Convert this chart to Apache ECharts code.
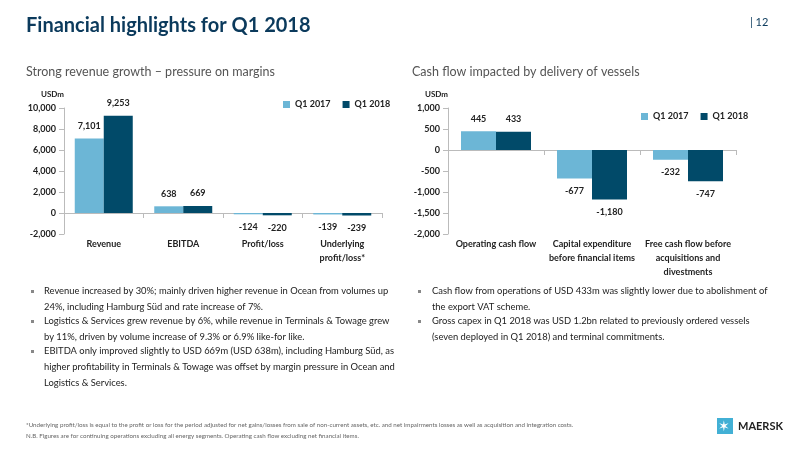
<!DOCTYPE html>
<html><head><meta charset="utf-8">
<script src="https://cdn.jsdelivr.net/npm/echarts@6/dist/echarts.min.js"></script>
<style>html,body{margin:0;padding:0;background:#fff}#c{width:800px;height:450px}</style>
</head><body><div id="c"></div>
<script>
const leftCategories = ['Revenue', 'EBITDA', 'Profit/loss', 'Underlying\nprofit/loss*'];
const leftQ12017 = [7101, 638, -124, -139];
const leftQ12018 = [9253, 669, -220, -239];
const rightCategories = ['Operating cash flow', 'Capital expenditure\nbefore financial items', 'Free cash flow before\nacquisitions and\ndivestments'];
const rightQ12017 = [445, -677, -232];
const rightQ12018 = [433, -1180, -747];
const seriesNames = ['Q1 2017', 'Q1 2018'];

const LIGHT = '#6cb6d6', DARK = '#014a69';
const F = 'Lato, "Open Sans", sans-serif';
const fmt = v => v.toLocaleString('en-US');
const items = arr => arr.map(v => ({value: v, label: {position: v < 0 ? 'bottom' : 'top'}}));
const lbl = {show: true, fontFamily: F, fontSize: 9, fontWeight: 'bold', color: '#222', distance: 8, formatter: p => fmt(p.value)};
const axisLbl = {fontFamily: F, fontSize: 9, fontWeight: 'bold', color: '#222'};

const chart = echarts.init(document.getElementById('c'));
const txt = (x, y, t, o) => ({type: 'text', left: x, top: y, style: Object.assign({text: t, fontFamily: F, fontSize: 9.4, fill: '#222', lineHeight: 16}, o || {})});
const bullet = (x, y) => ({type: 'rect', left: x, top: y, shape: {width: 3, height: 3}, style: {fill: '#888'}});

chart.setOption({
  animation: false,
  legend: [
    {data: seriesNames, left: 278, top: 95, itemWidth: 7, itemHeight: 7, itemGap: 12, textStyle: {fontFamily: F, fontSize: 9, fontWeight: 'bold', color: '#222'}, icon: 'rect'},
    {data: seriesNames, left: 636, top: 107, itemWidth: 7, itemHeight: 7, itemGap: 12, textStyle: {fontFamily: F, fontSize: 9, fontWeight: 'bold', color: '#222'}, icon: 'rect'}
  ],
  grid: [
    {left: 64, right: 418, top: 108, height: 126},
    {left: 448, right: 64, top: 108, height: 126}
  ],
  xAxis: [
    {type: 'category', gridIndex: 0, data: leftCategories, position: 'bottom',
     axisLine: {onZero: true, lineStyle: {color: '#bbb'}}, axisTick: {show: true, lineStyle: {color: '#bbb'}},
     axisLabel: Object.assign({margin: 3, interval: 0, lineHeight: 14}, axisLbl)},
    {type: 'category', gridIndex: 1, data: rightCategories,
     axisLine: {onZero: true, lineStyle: {color: '#bbb'}}, axisTick: {show: true, lineStyle: {color: '#bbb'}},
     axisLabel: Object.assign({margin: 3, interval: 0, lineHeight: 14}, axisLbl)}
  ],
  yAxis: [
    {type: 'value', gridIndex: 0, min: -2000, max: 10000, interval: 2000, name: 'USDm', nameLocation: 'end', nameGap: 10,
     nameTextStyle: {fontFamily: F, fontSize: 8, fontWeight: 'bold', color: '#222', align: 'right'},
     axisLine: {show: true, lineStyle: {color: '#bbb'}}, axisTick: {show: true, lineStyle: {color: '#bbb'}}, splitLine: {show: false},
     axisLabel: Object.assign({formatter: fmt}, axisLbl)},
    {type: 'value', gridIndex: 1, min: -2000, max: 1000, interval: 500, name: 'USDm', nameGap: 10,
     nameTextStyle: {fontFamily: F, fontSize: 8, fontWeight: 'bold', color: '#222', align: 'right'},
     axisLine: {show: true, lineStyle: {color: '#bbb'}}, axisTick: {show: true, lineStyle: {color: '#bbb'}}, splitLine: {show: false},
     axisLabel: Object.assign({formatter: fmt}, axisLbl)}
  ],
  series: [
    {name: seriesNames[0], type: 'bar', xAxisIndex: 0, yAxisIndex: 0, data: items(leftQ12017), itemStyle: {color: LIGHT}, barWidth: 29, barGap: '0%', label: lbl},
    {name: seriesNames[1], type: 'bar', xAxisIndex: 0, yAxisIndex: 0, data: items(leftQ12018), itemStyle: {color: DARK}, barWidth: 29, barGap: '0%', label: lbl},
    {name: seriesNames[0], type: 'bar', xAxisIndex: 1, yAxisIndex: 1, data: items(rightQ12017), itemStyle: {color: LIGHT}, barWidth: 35, barGap: '0%', label: lbl},
    {name: seriesNames[1], type: 'bar', xAxisIndex: 1, yAxisIndex: 1, data: items(rightQ12018), itemStyle: {color: DARK}, barWidth: 35, barGap: '0%', label: lbl}
  ],
  graphic: [
    txt(26, 16, 'Financial highlights for Q1 2018', {fontSize: 20, fontWeight: 'bold', fill: '#0b3a5c'}),
    txt(750, 14, '| 12', {fontSize: 11, fill: '#0b3a5c'}),
    txt(26, 64, 'Strong revenue growth – pressure on margins', {fontSize: 12.5, fill: '#555'}),
    txt(412, 64, 'Cash flow impacted by delivery of vessels', {fontSize: 12.5, fill: '#555'}),
    bullet(31, 290),
    txt(44, 283, 'Revenue increased by 30%; mainly driven higher revenue in Ocean from volumes up\n24%, including Hamburg Süd and rate increase of 7%.'),
    bullet(31, 320),
    txt(44, 313, 'Logistics & Services grew revenue by 6%, while revenue in Terminals & Towage grew\nby 11%, driven by volume increase of 9.3% or 6.9% like-for like.'),
    bullet(31, 350),
    txt(44, 343, 'EBITDA only improved slightly to USD 669m (USD 638m), including Hamburg Süd, as\nhigher profitability in Terminals & Towage was offset by margin pressure in Ocean and\nLogistics & Services.'),
    bullet(418, 290),
    txt(432, 283, 'Cash flow from operations of USD 433m was slightly lower due to abolishment of\nthe export VAT scheme.'),
    bullet(418, 320),
    txt(432, 313, 'Gross capex in Q1 2018 was USD 1.2bn related to previously ordered vessels\n(seven deployed in Q1 2018) and terminal commitments.'),
    txt(26, 421, '*Underlying profit/loss is equal to the profit or loss for the period adjusted for net gains/losses from sale of non-current assets, etc. and net impairments losses as well as acquisition and integration costs.', {fontSize: 6.2, fill: '#666', lineHeight: 9}),
    txt(26, 432, 'N.B. Figures are for continuing operations excluding all energy segments. Operating cash flow excluding net financial items.', {fontSize: 6.2, fill: '#666', lineHeight: 9}),
    {type: 'rect', left: 717, top: 418, shape: {width: 16, height: 16}, style: {fill: '#42b0d5'}},
    txt(718, 417, '✶', {fontSize: 14, fill: '#fff', lineHeight: 18}),
    txt(738, 420, 'MAERSK', {fontSize: 11, fontWeight: 'bold', fill: '#222', lineHeight: 12})
  ]
});
</script></body></html>
